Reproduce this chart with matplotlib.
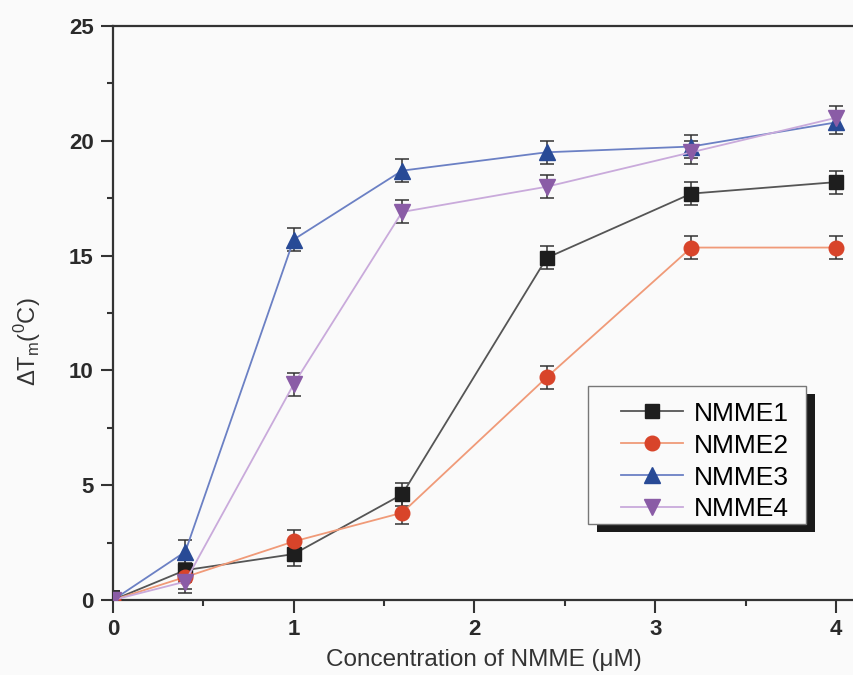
import matplotlib
matplotlib.use("Agg")
import matplotlib.pyplot as plt
from matplotlib.patches import Rectangle
from matplotlib.ticker import MultipleLocator

plt.rcParams['font.family'] = ['Liberation Sans', 'DejaVu Sans']

# concentration (uM) and melting temperature shifts
conc = [0, 0.4, 1.0, 1.6, 2.4, 3.2, 4.0]
nmme1 = [0, 1.3, 2.0, 4.6, 14.9, 17.7, 18.2]
nmme2 = [0, 1.0, 2.55, 3.8, 9.7, 15.35, 15.35]
nmme3 = [0, 2.1, 15.7, 18.7, 19.5, 19.75, 20.8]
nmme4 = [0, 0.8, 9.4, 16.9, 18.0, 19.5, 21.0]
err1 = [0.4, 0.5, 0.5, 0.5, 0.5, 0.5, 0.5]
err2 = [0.4, 0.5, 0.5, 0.5, 0.5, 0.5, 0.5]
err3 = [0.4, 0.5, 0.5, 0.5, 0.5, 0.5, 0.5]
err4 = [0.4, 0.5, 0.5, 0.5, 0.5, 0.5, 0.5]

names = ['NMME1', 'NMME2', 'NMME3', 'NMME4']
series = [nmme1, nmme2, nmme3, nmme4]
errs = [err1, err2, err3, err4]
markers = ['s', 'o', '^', 'v']
msizes = [9.5, 10.5, 11, 11]
mcols = ['#1e1e1e', '#d8442a', '#284a96', '#8a5ca6']
lcols = ['#555555', '#f09a78', '#6b80c4', '#c9aadb']

fig = plt.figure(figsize=(8.54, 6.75), dpi=100, facecolor='#fafafa')
ax = fig.add_axes([0.1323, 0.1111, 0.8677, 0.8504])
ax.set_facecolor('#fafafa')

for name, y, e, m, ms, mc, lc in zip(names, series, errs, markers, msizes, mcols, lcols):
    ax.errorbar(conc, y, yerr=e, fmt='none', ecolor='#333333', elinewidth=1.1,
                capsize=5, capthick=1.1, zorder=2)
    ax.plot(conc, y, color=lc, lw=1.3, marker=m, ms=ms, mfc=mc, mec=mc,
            label=name, zorder=3)

ax.set_xlim(0, 4.1)
ax.set_ylim(0, 25)
ax.xaxis.set_major_locator(MultipleLocator(1))
ax.xaxis.set_minor_locator(MultipleLocator(0.5))
ax.yaxis.set_major_locator(MultipleLocator(5))
ax.yaxis.set_minor_locator(MultipleLocator(2.5))

for side in ['left', 'bottom', 'top']:
    ax.spines[side].set_linewidth(1.6)
    ax.spines[side].set_color('#333333')
ax.spines['right'].set_visible(False)

ax.tick_params(which='major', direction='out', length=9, width=1.5, color='#333333',
               labelsize=16, labelcolor='#2a2a2a', pad=5)
ax.tick_params(which='minor', direction='out', length=4.5, width=1.5, color='#333333')
ax.tick_params(top=False, which='both')
for lab in ax.get_xticklabels() + ax.get_yticklabels():
    lab.set_fontweight('bold')

ax.set_xlabel('Concentration of NMME (\u03bcM)', fontsize=17.5, color='#333333')
ax.set_ylabel('\u0394T$_\\mathregular{m}$($^\\mathregular{0}$C)', fontsize=17, color='#333333')
ax.xaxis.set_label_coords(0.5, -0.086)
ax.yaxis.set_label_coords(-0.095, 0.45)

# legend box with a hard black shadow, drawn as plain rectangles
ax.add_patch(Rectangle((0.653, 0.1185), 0.294, 0.2405, transform=ax.transAxes,
                       facecolor='#1a1a1a', edgecolor='none', zorder=4, clip_on=False))
ax.add_patch(Rectangle((0.641, 0.1324), 0.294, 0.2405, transform=ax.transAxes,
                       facecolor='#fafafa', edgecolor='#777777', lw=1.0, zorder=5,
                       clip_on=False))
leg = ax.legend(loc='upper left', bbox_to_anchor=(0.6856, 0.3455), fontsize=19,
                frameon=False, handlelength=2.35, handletextpad=0.4, borderpad=0,
                labelspacing=0.3, borderaxespad=0)
leg.set_zorder(6)

fig.savefig('out.png', dpi=100, facecolor=fig.get_facecolor())
